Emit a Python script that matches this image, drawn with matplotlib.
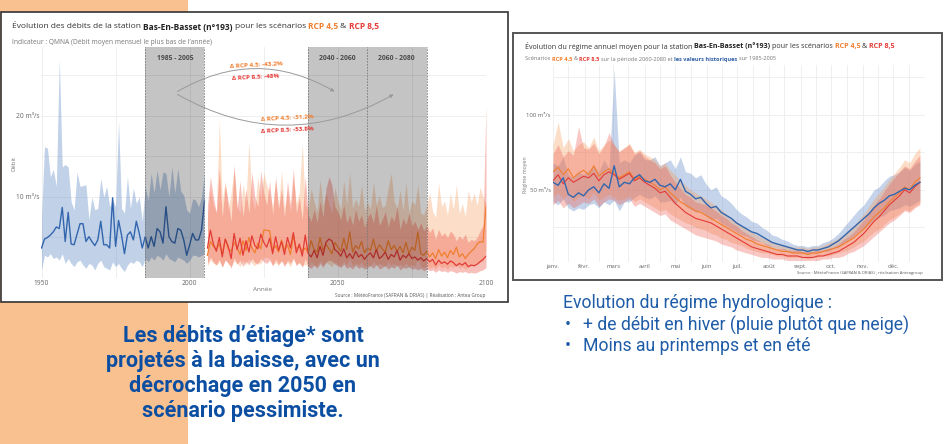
import matplotlib
matplotlib.use('Agg')
import matplotlib.pyplot as plt
from matplotlib.patches import Rectangle, FancyArrowPatch

plt.rcParams['font.family'] = ['Open Sans', 'DejaVu Sans']

W, H = 945, 444

# ---------------- Left chart data (QMNA, m3/s) ----------------
hist_years = list(range(1950, 2006))
hist_mean = [3.7, 4.8, 5.0, 5.3, 5.7, 6.3, 6.1, 8.7, 4.5, 8.1,
             4.2, 4.1, 5.4, 6.7, 6.7, 4.5, 5.1, 4.5, 4.0, 4.7,
             7.0, 4.1, 4.1, 3.7, 9.9, 3.9, 7.1, 5.3, 3.0, 5.3,
             5.7, 4.7, 7.0, 5.5, 3.7, 5.1, 3.7, 5.1, 3.9, 6.1,
             5.7, 4.3, 8.8, 5.1, 4.5, 4.3, 6.1, 5.9, 4.7, 2.8,
             4.1, 5.5, 4.7, 4.7, 5.9, 9.5]
hist_high = [7.5, 16.2, 16.0, 12.5, 13.4, 11.3, 27.0, 13.7, 14.0, 13.7,
             9.4, 8.4, 13.1, 11.3, 11.4, 11.5, 7.2, 10.0, 8.4, 8.6,
             12.3, 10.0, 11.3, 8.8, 9.6, 8.8, 19.3, 8.6, 8.0, 12.5,
             8.6, 11.1, 9.2, 10.0, 7.0, 11.3, 9.6, 12.9, 10.5, 13.3,
             10.9, 13.1, 12.9, 10.0, 13.7, 10.5, 13.5, 10.7, 10.2, 8.4,
             8.0, 9.8, 9.6, 8.8, 10.0, 13.1]
hist_low = [1.0, 2.8, 2.6, 3.0, 2.4, 2.6, 2.2, 3.0, 1.8, 2.4,
            1.8, 1.4, 2.0, 2.2, 1.6, 1.2, 1.8, 1.6, 1.0, 1.8,
            2.2, 1.4, 1.2, 1.0, 2.0, 1.4, 1.8, 1.2, 0.8, 1.6,
            2.0, 1.8, 2.2, 2.0, 1.4, 2.4, 2.0, 2.6, 2.2, 2.8,
            2.6, 2.2, 3.0, 2.4, 2.2, 2.0, 2.6, 2.4, 2.2, 1.8,
            2.2, 2.8, 2.8, 2.6, 2.8, 3.0]

rcp_years = list(range(2006, 2101))
rcp45_mean = [2.8, 4.5, 3.9, 3.5, 4.2, 3.0, 4.8, 3.6, 3.3, 4.4,
              3.8, 2.9, 4.6, 3.4, 5.0, 3.7, 3.1, 4.3, 3.6, 5.9,
              5.9, 5.8, 3.4, 4.0, 3.2, 4.7, 3.5, 4.1, 2.9, 5.2,
              3.6, 3.9, 3.3, 3.7, 3.1, 4.6, 3.5, 3.2, 5.0, 3.4,
              4.2, 3.6, 3.0, 4.4, 3.8, 3.3, 4.9, 3.5, 5.7, 3.2,
              4.0, 3.6, 4.5, 3.1, 3.7, 3.4, 4.8, 3.3, 4.1, 3.6,
              3.2, 4.6, 3.5, 4.0, 3.3, 3.9, 3.1, 4.4, 3.0, 3.8,
              3.4, 5.7, 3.0, 2.8, 3.3, 2.6, 3.1, 2.4, 3.5, 2.7,
              3.2, 2.5, 3.4, 2.9, 3.8, 2.6, 3.0, 2.4, 2.9, 3.3,
              3.6, 4.2, 4.5, 4.4, 8.8]
rcp45_high = [7.5, 11.0, 9.0, 8.2, 19.5, 9.5, 12.0, 8.5, 10.5, 13.5,
              9.0, 8.0, 11.5, 9.5, 16.8, 10.0, 8.5, 12.5, 9.8, 13.0,
              11.5, 10.5, 8.8, 12.0, 9.0, 13.2, 8.6, 10.8, 8.0, 12.4,
              9.2, 10.5, 16.6, 9.0, 8.5, 11.0, 9.4, 8.2, 12.1, 9.0,
              10.5, 9.0, 8.0, 11.2, 9.5, 8.4, 12.0, 9.0, 13.0, 8.6,
              9.8, 8.8, 11.5, 8.2, 9.4, 8.5, 11.8, 9.0, 10.2, 8.7,
              9.0, 11.2, 12.9, 9.5, 8.6, 10.8, 8.3, 11.8, 8.0, 9.6,
              9.0, 11.5, 8.0, 7.8, 9.0, 10.5, 8.2, 7.5, 11.8, 8.8,
              9.5, 7.8, 10.5, 8.5, 11.5, 8.0, 9.2, 7.6, 10.8, 9.4,
              10.5, 9.0, 11.2, 10.0, 9.2]
rcp45_low = [1.5, 2.2, 1.8, 1.6, 2.0, 1.4, 2.3, 1.7, 1.5, 2.1,
             1.8, 1.4, 2.2, 1.6, 2.4, 1.8, 1.5, 2.0, 1.7, 2.6,
             2.5, 2.4, 1.6, 1.9, 1.5, 2.2, 1.7, 1.9, 1.4, 2.3,
             1.7, 1.8, 1.5, 1.7, 1.4, 2.0, 1.6, 1.5, 2.2, 1.6,
             1.9, 1.7, 1.4, 2.0, 1.7, 1.5, 2.1, 1.6, 2.4, 1.5,
             1.8, 1.6, 2.0, 1.4, 1.7, 1.5, 2.1, 1.5, 1.8, 1.6,
             1.5, 2.0, 1.6, 1.8, 1.5, 1.7, 1.4, 1.9, 1.4, 1.7,
             1.5, 2.4, 1.4, 1.3, 1.5, 1.2, 1.4, 1.1, 1.6, 1.2,
             1.4, 1.1, 1.5, 1.3, 1.7, 1.2, 1.4, 1.1, 1.3, 1.5,
             1.6, 1.9, 2.0, 2.0, 3.5]
rcp85_mean = [3.7, 5.9, 4.2, 3.3, 5.0, 2.6, 4.8, 3.9, 2.4, 5.5,
              3.5, 4.9, 2.8, 4.6, 3.2, 5.2, 4.0, 3.6, 5.4, 4.4,
              3.8, 4.9, 3.0, 5.1, 3.4, 4.5, 2.9, 5.0, 3.7, 5.6,
              3.1, 4.2, 2.7, 5.3, 3.0, 2.6, 3.4, 2.5, 3.9, 2.8,
              4.4, 4.8, 4.6, 3.5, 3.2, 2.7, 3.6, 2.5, 3.0, 2.4,
              3.3, 2.6, 2.9, 2.3, 2.8, 3.1, 2.5, 3.5, 2.4, 2.7,
              3.2, 2.3, 2.9, 2.6, 3.4, 2.2, 2.8, 2.5, 3.0, 2.4,
              2.6, 2.2, 2.5, 2.1, 2.4, 2.0, 2.3, 1.6, 2.2, 1.8,
              2.0, 1.7, 2.1, 1.9, 1.5, 1.8, 1.6, 1.9, 1.4, 1.6,
              1.5, 1.7, 2.0, 2.3, 2.7]
rcp85_high = [9.0, 12.5, 10.0, 8.0, 13.5, 7.5, 11.5, 9.5, 7.0, 14.0,
              8.5, 12.0, 7.5, 11.0, 8.0, 13.0, 10.0, 8.8, 13.2, 10.5,
              9.0, 12.0, 7.8, 12.5, 8.5, 11.0, 7.5, 12.0, 9.0, 13.5,
              8.0, 10.0, 7.2, 12.5, 7.8, 7.0, 8.5, 6.8, 9.5, 7.5,
              11.0, 12.5, 11.5, 8.8, 8.2, 7.2, 9.0, 6.8, 7.8, 6.5,
              8.5, 7.0, 7.8, 6.2, 7.5, 8.0, 6.8, 9.0, 6.5, 7.2,
              8.2, 6.3, 7.6, 7.0, 8.8, 6.0, 7.4, 6.6, 8.0, 6.4,
              7.0, 6.0, 6.8, 5.8, 6.5, 5.6, 6.2, 4.8, 6.0, 5.2,
              5.6, 5.0, 5.8, 5.4, 4.6, 5.2, 4.8, 5.4, 4.4, 4.8,
              4.6, 5.0, 5.8, 6.5, 21.5]
rcp85_low = [1.8, 2.6, 2.0, 1.6, 2.3, 1.3, 2.2, 1.9, 1.2, 2.5,
             1.7, 2.2, 1.4, 2.1, 1.6, 2.4, 1.9, 1.7, 2.4, 2.0,
             1.8, 2.2, 1.5, 2.3, 1.7, 2.1, 1.4, 2.2, 1.8, 2.5,
             1.5, 2.0, 1.3, 2.4, 1.4, 1.2, 1.6, 1.2, 1.8, 1.3,
             2.0, 2.2, 2.1, 1.7, 1.5, 1.3, 1.7, 1.2, 1.4, 1.1,
             1.6, 1.2, 1.4, 1.1, 1.3, 1.5, 1.2, 1.7, 1.1, 1.3,
             1.5, 1.1, 1.4, 1.2, 1.6, 1.0, 1.3, 1.2, 1.4, 1.1,
             1.2, 1.0, 1.2, 0.9, 1.1, 0.9, 1.0, 0.7, 1.0, 0.8,
             0.9, 0.7, 0.9, 0.8, 0.6, 0.8, 0.7, 0.8, 0.6, 0.7,
             0.6, 0.7, 0.9, 1.0, 1.3]

x_ticks_left = [1950, 2000, 2050, 2100]
y_ticks_left = [10, 20]
y_ticklabels_left = ['10 m³/s', '20 m³/s']

# ---------------- Right chart data (régime moyen, m3/s) ----------------
reg_days = list(range(1, 366, 5))
hist_reg_mean = [55, 53, 58, 47, 45, 48, 46,
                 50, 52, 48, 54, 51,
                 66, 52, 55, 54, 58, 60,
                 56, 55, 57, 53, 52, 54,
                 50, 57, 49, 47, 44, 45, 41,
                 38, 39, 35, 33, 31, 28,
                 26, 24, 22, 21, 19, 17,
                 15, 14, 13, 12, 11, 10,
                 10, 9, 10, 10, 11, 12,
                 14, 16, 19, 22, 25, 28,
                 31, 34, 38, 41, 43, 46,
                 47, 49, 51, 50, 53, 55]
hist_reg_low = [42, 40, 44, 38, 36, 38, 37,
                40, 41, 38, 42, 40,
                43, 36, 42, 42, 45, 47,
                45, 44, 46, 42, 42, 43,
                40, 45, 39, 37, 35, 36, 33,
                30, 31, 28, 26, 24, 22,
                20, 19, 17, 16, 15, 13,
                12, 11, 10, 9, 8, 8,
                8, 7, 8, 8, 9, 9,
                11, 12, 14, 17, 19, 22,
                24, 27, 30, 32, 33, 36,
                37, 38, 40, 39, 41, 43]
hist_reg_high = [68, 66, 72, 60, 58, 62, 60,
                 63, 66, 62, 70, 64,
                 130, 68, 70, 68, 73, 75,
                 70, 70, 72, 66, 68, 70,
                 64, 72, 62, 61, 58, 60, 54,
                 50, 52, 46, 44, 41, 37,
                 34, 32, 29, 28, 25, 23,
                 20, 19, 17, 16, 14, 13,
                 13, 12, 13, 13, 15, 16,
                 18, 21, 25, 29, 33, 37,
                 40, 45, 50, 52, 56, 59,
                 60, 62, 65, 63, 67, 69]
r45_reg_mean = [62, 65, 60, 64, 58, 61, 63,
                60, 66, 59, 62, 64,
                61, 58, 60, 62, 57, 59,
                57, 55, 53, 50, 52, 48,
                45, 42, 40, 38, 36, 35, 33,
                31, 29, 27, 25, 23, 21,
                19, 17, 16, 14, 13, 12,
                11, 10, 9, 9, 8, 8,
                8, 7, 8, 8, 9, 10,
                11, 12, 14, 16, 18, 21,
                24, 28, 32, 35, 38, 42,
                45, 48, 52, 50, 55, 58]
r45_reg_low = [45, 48, 44, 47, 42, 45, 46,
               44, 48, 43, 45, 47,
               45, 43, 44, 46, 42, 44,
               42, 40, 38, 36, 37, 34,
               32, 30, 28, 27, 25, 24, 23,
               21, 20, 18, 17, 15, 14,
               13, 11, 10, 9, 8, 8,
               7, 6, 6, 5, 5, 5,
               5, 4, 5, 5, 6, 6,
               7, 8, 9, 10, 12, 14,
               16, 19, 22, 24, 27, 30,
               32, 34, 37, 36, 39, 41]
r45_reg_high = [80, 95, 78, 84, 76, 80, 82,
                78, 85, 76, 80, 83,
                80, 76, 78, 81, 75, 77,
                74, 72, 70, 66, 68, 63,
                60, 56, 53, 50, 48, 46, 44,
                42, 39, 37, 34, 31, 29,
                26, 24, 22, 20, 18, 17,
                15, 14, 13, 13, 12, 12,
                12, 11, 12, 12, 13, 15,
                16, 18, 20, 23, 26, 30,
                34, 39, 44, 48, 52, 57,
                61, 65, 70, 68, 74, 78]
r85_reg_mean = [56, 60, 54, 58, 55, 57, 59,
                58, 61, 56, 60, 62,
                60, 57, 59, 61, 56, 58,
                55, 53, 51, 48, 49, 45,
                41, 38, 35, 33, 31, 30, 29,
                28, 26, 24, 22, 20, 18,
                16, 14, 12, 11, 10, 9,
                8, 7, 7, 6, 6, 6,
                5, 5, 5, 6, 6, 7,
                8, 9, 11, 13, 15, 18,
                21, 25, 29, 32, 36, 40,
                43, 46, 50, 48, 52, 55]
r85_reg_low = [40, 43, 38, 41, 38, 40, 42,
               41, 44, 39, 42, 44,
               43, 40, 42, 44, 39, 41,
               39, 37, 35, 33, 34, 30,
               28, 26, 24, 22, 20, 19, 18,
               17, 16, 14, 13, 12, 10,
               9, 8, 7, 6, 5, 5,
               4, 4, 4, 3, 3, 3,
               3, 3, 3, 3, 4, 4,
               5, 5, 6, 8, 9, 11,
               13, 16, 19, 22, 25, 28,
               30, 33, 36, 35, 38, 40]
r85_reg_high = [74, 80, 72, 76, 73, 92, 78,
                77, 81, 74, 79, 88,
                80, 75, 78, 80, 74, 76,
                72, 70, 68, 64, 66, 60,
                55, 51, 47, 45, 42, 41, 40,
                38, 36, 33, 31, 28, 26,
                23, 21, 19, 17, 15, 14,
                12, 11, 11, 10, 10, 10,
                9, 9, 9, 10, 10, 11,
                12, 14, 17, 19, 22, 26,
                30, 35, 40, 44, 49, 54,
                58, 62, 66, 64, 69, 73]

month_days = [1, 32, 60, 91, 121, 152, 182, 213, 244, 274, 305, 335]
month_labels = ['janv.', 'févr.', 'mars', 'avril', 'mai', 'juin',
                'juil.', 'août', 'sept.', 'oct.', 'nov.', 'déc.']
mid_month_days = [16, 46, 75, 106, 136, 167, 197, 228, 259, 289, 320, 350]
y_ticks_right = [50, 100]
y_ticklabels_right = ['50 m³/s', '100 m³/s']

# colours
C_BLUE = '#3466AE'
C_ORANGE = '#F07F2E'
C_RED = '#E33B36'
C_TXT = '#0B4EA2'

fig = plt.figure(figsize=(W / 100, H / 100), dpi=100)
fig.patch.set_facecolor('white')


def fx(x):
    return x / W


def fy(y):
    return 1 - y / H


# slide background pieces
fig.add_artist(Rectangle((0, 0), fx(188), 1, transform=fig.transFigure,
                         facecolor='#F9C18F', edgecolor='none', zorder=-5))
fig.add_artist(Rectangle((fx(0.5), fy(302)), fx(508) - fx(0.5), fy(12) - fy(302),
                         transform=fig.transFigure, facecolor='white',
                         edgecolor='#333333', lw=1.2, zorder=-4))
fig.add_artist(Rectangle((fx(513), fy(280)), fx(942) - fx(513), fy(33) - fy(280),
                         transform=fig.transFigure, facecolor='white',
                         edgecolor='#555555', lw=1.4, zorder=-4))

renderer = fig.canvas.get_renderer()


def measure(s, size, weight):
    t = fig.text(0, 0, '|' + s + '|', fontsize=size, weight=weight)
    w1 = t.get_window_extent(renderer).width
    t.set_text('||')
    w2 = t.get_window_extent(renderer).width
    t.remove()
    return w1 - w2


def rich(x, y, parts, size):
    for s, color, weight in parts:
        fig.text(fx(x), fy(y), s, color=color, fontsize=size, weight=weight,
                 ha='left', va='center')
        x += measure(s, size, weight)


# ---------------- Left chart ----------------
ax1 = fig.add_axes([fx(41.5), fy(278), fx(486) - fx(41.5), fy(47) - fy(278)])
ax1.set_facecolor('none')
ax1.set_xlim(1950, 2100)
ax1.set_ylim(0, 28.5)
for s in ax1.spines.values():
    s.set_visible(False)
ax1.set_xticks(x_ticks_left)
ax1.set_xticks([1975, 2025, 2075], minor=True)
ax1.set_yticks(y_ticks_left)
ax1.set_yticklabels(y_ticklabels_left)
ax1.set_yticks([5, 15, 25], minor=True)
ax1.grid(True, which='both', color='#EDEDED', lw=0.6)
ax1.set_axisbelow(True)
ax1.tick_params(which='both', length=0, labelsize=4.8, labelcolor='#666666', pad=1.5)

ax1.fill_between(hist_years, hist_low, hist_high, color='#5B86C5', alpha=0.38, lw=0, zorder=1)
ax1.fill_between(rcp_years, rcp45_low, rcp45_high, color='#F7A062', alpha=0.35, lw=0, zorder=1)
ax1.fill_between(rcp_years, rcp85_low, rcp85_high, color='#EE5A4C', alpha=0.38, lw=0, zorder=2)
ax1.plot(hist_years, hist_mean, color=C_BLUE, lw=1.0, zorder=4)
ax1.plot(rcp_years, rcp45_mean, color=C_ORANGE, lw=0.9, zorder=4)
ax1.plot(rcp_years, rcp85_mean, color=C_RED, lw=0.9, zorder=5)
for a, b in [(1985, 2005), (2040, 2080)]:
    ax1.axvspan(a, b, color='black', alpha=0.23, lw=0, zorder=6)
for xv in [1985, 2005, 2040, 2060, 2080]:
    ax1.axvline(xv, color='#7A7A7A', lw=0.6, ls=(0, (2, 1.5)), zorder=7)

rich(12, 27, [("Évolution des débits de la station ", '#333333', 'normal'),
              ("Bas-En-Basset (n°193) ", '#222222', 'bold'),
              ("pour les scénarios ", '#333333', 'normal'),
              ("RCP 4,5 ", C_ORANGE, 'bold'),
              ("& ", '#333333', 'normal'),
              ("RCP 8,5", C_RED, 'bold')], 6.0)
fig.text(fx(12), fy(42), "Indicateur : QMNA (Débit moyen mensuel le plus bas de l’année)",
         fontsize=4.8, color='#777777', ha='left', va='center')
fig.text(fx(263), fy(289), "Année", fontsize=4.6, color='#777777', ha='center', va='center')
fig.text(fx(14), fy(163), "Débit", fontsize=4.3, color='#777777', ha='center', va='center',
         rotation=90)
fig.text(fx(485), fy(295), "Source : MétéoFrance (SAFRAN & DRIAS) | Réalisation : Antea Group",
         fontsize=3.4, color='#555555', ha='right', va='center')

for xc, lab in [(175, "1985 - 2005"), (337, "2040 - 2060"), (396, "2060 - 2080")]:
    fig.text(fx(xc), fy(59), lab, fontsize=4.9, color='#4A4A4A', weight='bold',
             ha='center', va='center')

fig.add_artist(FancyArrowPatch((fx(175), fy(93)), (fx(337), fy(93)),
                               transform=fig.transFigure,
                               connectionstyle='arc3,rad=-0.30',
                               arrowstyle='-|>', mutation_scale=5,
                               color='#9A9A9A', lw=0.7, zorder=8))
fig.add_artist(FancyArrowPatch((fx(175), fy(93)), (fx(396), fy(93)),
                               transform=fig.transFigure,
                               connectionstyle='arc3,rad=0.29',
                               arrowstyle='-|>', mutation_scale=5,
                               color='#9A9A9A', lw=0.7, zorder=8))
for xc, yc, lab, col in [(256, 65, "Δ RCP 4,5: -43,2%", C_ORANGE),
                         (256, 77, "Δ RCP 8,5: -48%", C_RED),
                         (287, 118, "Δ RCP 4,5: -31,2%", C_ORANGE),
                         (287, 130, "Δ RCP 8,5: -53,8%", C_RED)]:
    fig.text(fx(xc), fy(yc), lab, fontsize=4.6, color=col, weight='bold',
             ha='center', va='center', rotation=3)

# ---------------- Right chart ----------------
ax2 = fig.add_axes([fx(553), fy(262), fx(925) - fx(553), fy(65) - fy(262)])
ax2.set_facecolor('none')
ax2.set_xlim(1, 366)
ax2.set_ylim(2, 133)
for s in ax2.spines.values():
    s.set_visible(False)
ax2.set_xticks(month_days)
ax2.set_xticklabels(month_labels)
ax2.set_xticks(mid_month_days, minor=True)
ax2.set_yticks(y_ticks_right)
ax2.set_yticklabels(y_ticklabels_right)
ax2.set_yticks([25, 75, 125], minor=True)
ax2.grid(True, which='both', color='#EDEDED', lw=0.6)
ax2.set_axisbelow(True)
ax2.tick_params(which='both', length=0, labelsize=4.3, labelcolor='#666666', pad=1.5)

ax2.fill_between(reg_days, hist_reg_low, hist_reg_high, color='#5B86C5', alpha=0.35, lw=0, zorder=1)
ax2.fill_between(reg_days, r45_reg_low, r45_reg_high, color='#F7A062', alpha=0.35, lw=0, zorder=2)
ax2.fill_between(reg_days, r85_reg_low, r85_reg_high, color='#EE5A4C', alpha=0.33, lw=0, zorder=2)
ax2.plot(reg_days, r45_reg_mean, color=C_ORANGE, lw=0.8, zorder=4)
ax2.plot(reg_days, r85_reg_mean, color=C_RED, lw=0.8, zorder=4)
ax2.plot(reg_days, hist_reg_mean, color=C_BLUE, lw=1.0, zorder=5)

rich(525, 46, [("Évolution du régime annuel moyen pour la station ", '#333333', 'normal'),
               ("Bas-En-Basset (n°193) ", '#222222', 'bold'),
               ("pour les scénarios ", '#333333', 'normal'),
               ("RCP 4,5 ", C_ORANGE, 'bold'),
               ("& ", '#333333', 'normal'),
               ("RCP 8,5", C_RED, 'bold')], 5.15)
rich(525, 59, [("Scénarios ", '#777777', 'normal'),
               ("RCP 4,5 ", C_ORANGE, 'bold'),
               ("& ", '#777777', 'normal'),
               ("RCP 8,5 ", C_RED, 'bold'),
               ("sur la période 2060-2080 et ", '#777777', 'normal'),
               ("les valeurs historiques ", '#2F5FA7', 'bold'),
               ("sur 1985-2005", '#777777', 'normal')], 4.1)
fig.text(fx(525), fy(175), "Régime moyen", fontsize=3.8, color='#777777', ha='center',
         va='center', rotation=90)
fig.text(fx(923), fy(273), "Source : MétéoFrance (SAFRAN & DRIAS) ; réalisation Anteagroup",
         fontsize=3.0, color='#555555', ha='right', va='center')

# ---------------- Slide text ----------------
left_lines = ["Les débits d’étiage* sont", "projetés à la baisse, avec un",
              "décrochage en 2050 en", "scénario pessimiste."]
for i, line in enumerate(left_lines):
    fig.text(fx(243), fy(336 + 25 * i), line, fontsize=15.5, weight='bold', color=C_TXT,
             family=['Roboto', 'DejaVu Sans'], ha='center', va='center')

C_TXT2 = '#1F5CA8'
fig.text(fx(563), fy(303), "Evolution du régime hydrologique :", fontsize=12.7, color=C_TXT2,
         family=['Roboto', 'DejaVu Sans'], ha='left', va='center')
for i, line in enumerate(["+ de débit en hiver (pluie plutôt que neige)",
                          "Moins au printemps et en été"]):
    fig.text(fx(565), fy(325 + 21 * i), "•", fontsize=12.7, color=C_TXT2,
             family=['Roboto', 'DejaVu Sans'], ha='left', va='center')
    fig.text(fx(583), fy(325 + 21 * i), line, fontsize=12.7, color=C_TXT2,
             family=['Roboto', 'DejaVu Sans'], ha='left', va='center')

fig.savefig('out.png', dpi=100)
